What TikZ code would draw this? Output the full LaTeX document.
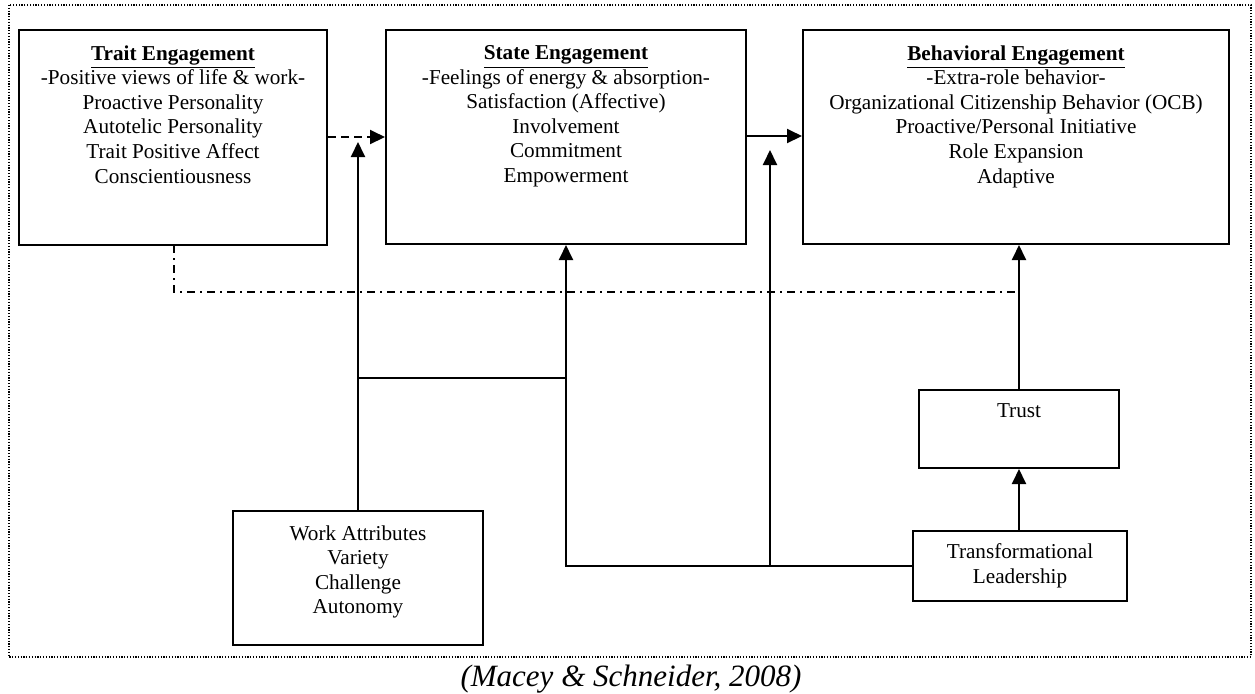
\documentclass[tikz,border=0pt]{standalone}
\usepackage{fontspec}
\setmainfont{Liberation Serif}
\usetikzlibrary{arrows.meta}
\begin{document}
\begin{tikzpicture}[x=0.5pt,y=-0.5pt,
  box/.style={draw, line width=1pt, inner sep=0pt},
  txt/.style={align=center, inner sep=0pt, font=\fontsize{10.6}{12.3}\selectfont},
  conn/.style={line width=1pt},
  arr/.style={conn, -{Triangle[length=7.5pt,width=7pt]}},
  frame/.style={line width=0.6pt, dash pattern=on 0.6pt off 0.8pt},
  dashdot/.style={line width=0.8pt, dash pattern=on 4pt off 2.5pt on 1pt off 2.5pt}]
\useasboundingbox (0,0) rectangle (1255,693);
\draw[frame] (9,5) rectangle (1251,657);
% boxes
\node[box, minimum width=154pt, minimum height=107.5pt] (trait) at (173,137.5) {};
\node[box, minimum width=180pt, minimum height=107pt] (state) at (566,137) {};
\node[box, minimum width=213pt, minimum height=107pt] (behav) at (1016,137) {};
\node[box, minimum width=125pt, minimum height=67pt] (work) at (358,578) {};
\node[box, minimum width=100pt, minimum height=39pt] (trust) at (1019,429) {};
\node[box, minimum width=107pt, minimum height=35pt] (tl) at (1020,566) {};
% texts
\node[txt, anchor=north] (traitT) at ([yshift=-8pt]trait.north) {\underline{\textbf{Trait Engagement}}\\-Positive views of life \& work-\\Proactive Personality\\Autotelic Personality\\Trait Positive Affect\\Conscientiousness};
\node[txt, anchor=north] (stateT) at ([yshift=-8pt]state.north) {\underline{\textbf{State Engagement}}\\-Feelings of energy \& absorption-\\Satisfaction (Affective)\\Involvement\\Commitment\\Empowerment};
\node[txt, anchor=north] (behavT) at ([yshift=-8pt]behav.north) {\underline{\textbf{Behavioral Engagement}}\\-Extra-role behavior-\\Organizational Citizenship Behavior (OCB)\\Proactive/Personal Initiative\\Role Expansion\\Adaptive};
\node[txt, anchor=north] (workT) at ([yshift=-7.5pt]work.north) {Work Attributes\\Variety\\Challenge\\Autonomy};
\node[txt, anchor=north] (trustT) at ([yshift=-7pt]trust.north) {Trust};
\node[txt] (tlT) at (tl.center) {Transformational\\Leadership};
% coordinates
\coordinate (wtip) at (358,142);
\coordinate (j1) at (358,378);
\coordinate (j2) at (566,378);
\coordinate (c2) at (770,566);
\coordinate (btip) at (770,150);
\coordinate (d1) at (174,245);
\coordinate (d2) at (1019,292);
% connectors
\draw[arr, dash pattern=on 4pt off 2.5pt] (trait.east |- 0,137) -- (state.west |- 0,137);
\draw[arr] (state.east |- 0,136) -- (behav.west |- 0,136);
\draw[arr] (work.north) -- (wtip);
\draw[conn] (j1) -- (j2);
\draw[arr] (tl.west) -| (state.south);
\draw[arr] (c2) -- (btip);
\draw[arr] (trust.north) -- (trust.north |- behav.south);
\draw[arr] (tl.north -| trust.south) -- (trust.south);
\draw[dashdot] (d1) |- (d2);
% caption
\node[font=\fontsize{15.5}{18}\selectfont\itshape] (cap) at (631,679) {(Macey \& Schneider, 2008)};
\end{tikzpicture}
\end{document}
